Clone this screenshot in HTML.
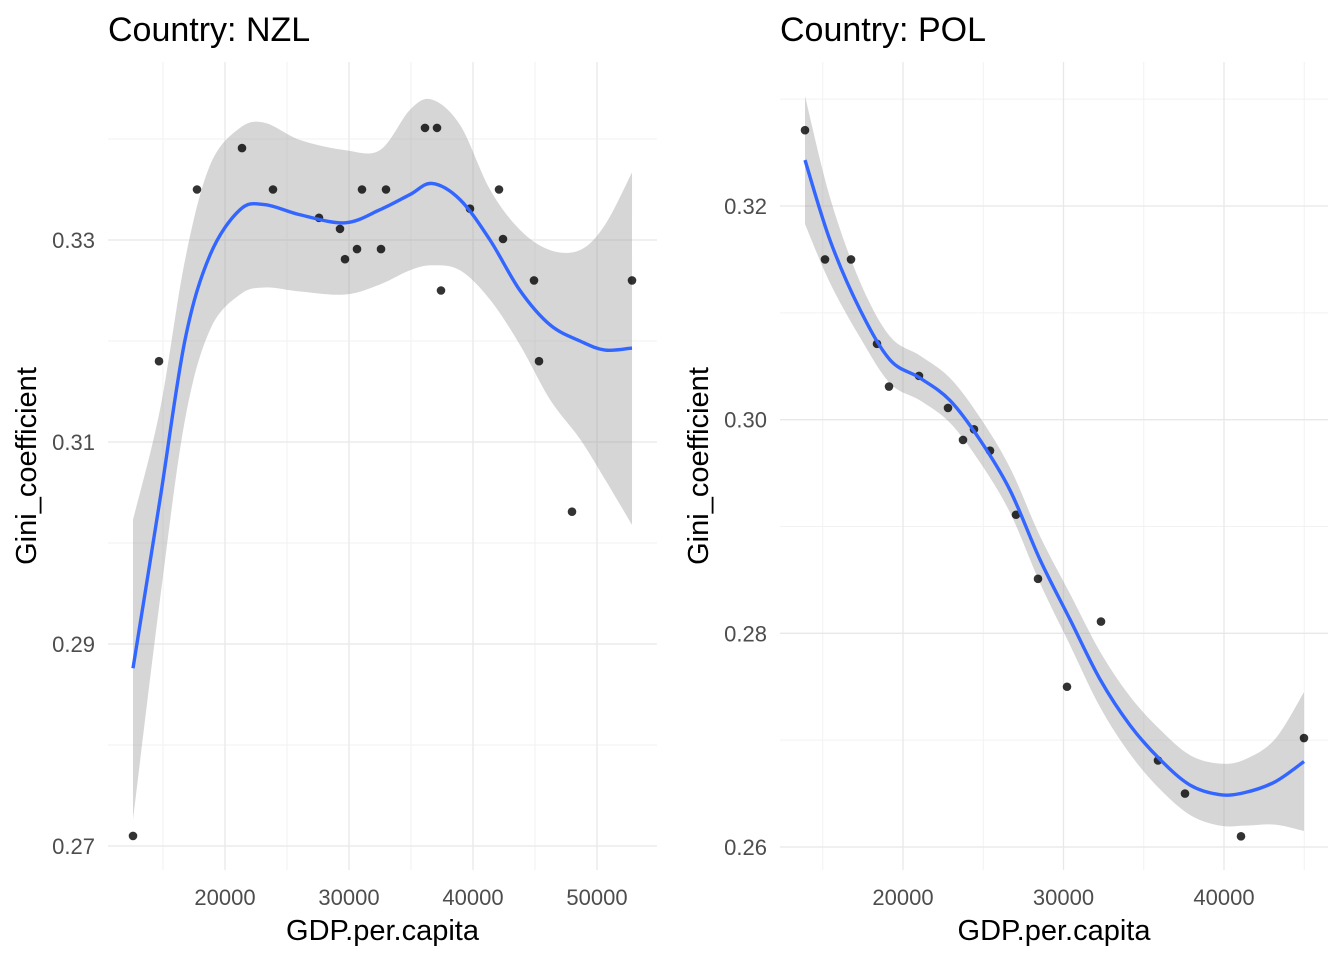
<!DOCTYPE html>
<html><head><meta charset="utf-8"><style>
body{margin:0;background:#fff;}
svg{display:block;font-family:"Liberation Sans",sans-serif;}
</style></head><body>
<svg id="chart" width="1344" height="960"></svg>
<script>
// NZL data
const nzlGdp=[12581,14677,17742,21371,23871,27581,29274,29677,30645,31048,32581,32984,36129,37097,37419,39758,42097,42419,44919,45323,47984,52823];
const nzlGini=[0.2710,0.3180,0.3350,0.3391,0.3350,0.3322,0.3311,0.3281,0.3291,0.3350,0.3291,0.3350,0.3411,0.3411,0.3250,0.3331,0.3350,0.3301,0.3260,0.3180,0.3031,0.3260];
const nzlFitX=[12581,14758,16774,18790,21210,23226,26048,29677,32500,34919,36694,38952,41371,43790,46210,48629,50645,52823];
const nzlFit=[0.2876,0.3043,0.3201,0.3285,0.3330,0.3335,0.3325,0.3317,0.3330,0.3345,0.3356,0.3340,0.3300,0.3250,0.3216,0.3200,0.3191,0.3193];
const nzlUpper=[0.3023,0.3132,0.3280,0.3374,0.3411,0.3416,0.3399,0.3389,0.3389,0.3429,0.3439,0.3414,0.3350,0.3310,0.3290,0.3290,0.3315,0.3367];
const nzlLower=[0.2726,0.2944,0.3122,0.3211,0.3246,0.3253,0.3249,0.3246,0.3256,0.3270,0.3275,0.3270,0.3241,0.3196,0.3142,0.3103,0.3063,0.3018];
const nzlXTicks=[20000,30000,40000,50000];
const nzlYTicks=[0.27,0.29,0.31,0.33];
// POL data
const polGdp=[13894,15140,16760,18380,19128,20997,22804,23738,24424,25421,27040,28411,30218,32336,35888,37570,41059,44984];
const polGini=[0.3271,0.3150,0.3150,0.3071,0.3031,0.3041,0.3011,0.2981,0.2991,0.2971,0.2911,0.2851,0.2750,0.2811,0.2681,0.2650,0.2610,0.2702];
const polFitX=[13894,15452,17321,19190,21059,22928,24798,26667,28536,30405,32274,34143,36012,37882,39751,41308,43178,44984];
const polFit=[0.3243,0.3168,0.3103,0.3056,0.3039,0.3018,0.2981,0.2934,0.2869,0.2813,0.2757,0.2714,0.2682,0.2658,0.2649,0.2651,0.2661,0.2680];
const polSe=[0.0060,0.0040,0.0026,0.0022,0.0021,0.0021,0.0021,0.0021,0.0022,0.0024,0.0026,0.0027,0.0028,0.0028,0.0029,0.0031,0.0040,0.0065];
const polXTicks=[20000,30000,40000];
const polYTicks=[0.26,0.28,0.30,0.32];

const NS="http://www.w3.org/2000/svg";
const svg=document.getElementById('chart');
function mk(tag,attrs,parent){const e=document.createElementNS(NS,tag);for(const k in attrs)e.setAttribute(k,attrs[k]);(parent||svg).appendChild(e);return e;}
function smooth(pts,start){
  let d=start?'M'+pts[0][0]+','+pts[0][1]:'L'+pts[0][0]+','+pts[0][1];
  for(let i=0;i<pts.length-1;i++){
    const p0=pts[Math.max(i-1,0)],p1=pts[i],p2=pts[i+1],p3=pts[Math.min(i+2,pts.length-1)];
    const c1=[p1[0]+(p2[0]-p0[0])/6,p1[1]+(p2[1]-p0[1])/6];
    const c2=[p2[0]-(p3[0]-p1[0])/6,p2[1]-(p3[1]-p1[1])/6];
    d+='C'+c1[0]+','+c1[1]+' '+c2[0]+','+c2[1]+' '+p2[0]+','+p2[1];
  }
  return d;
}

function panel(o){
  const g=mk('g',{});
  
  
  const sx=v=>o.x0+(v-o.xd0)/(o.xd1-o.xd0)*(o.x1-o.x0);
  const sy=v=>o.y0+(v-o.yd0)/(o.yd1-o.yd0)*(o.y1-o.y0);
  o.xMinor.forEach(v=>{const l=mk('line',{x1:sx(v),x2:sx(v),y1:o.top,y2:o.bottom,stroke:'#f2f2f2','stroke-width':1},g);
    });
  o.yMinor.forEach(v=>{const l=mk('line',{x1:o.left,x2:o.right,y1:sy(v),y2:sy(v),stroke:'#f2f2f2','stroke-width':1},g);
    });
  o.xTicks.forEach(v=>{const l=mk('line',{x1:sx(v),x2:sx(v),y1:o.top,y2:o.bottom,stroke:'#e8e8e8','stroke-width':1.3},g);
    
    const t=mk('text',{x:sx(v),y:o.bottom+35,'text-anchor':'middle','font-size':22,fill:'#4d4d4d'},g);t.textContent=v;
    });
  o.yTicks.forEach(v=>{const l=mk('line',{x1:o.left,x2:o.right,y1:sy(v),y2:sy(v),stroke:'#e8e8e8','stroke-width':1.3},g);
    
    const t=mk('text',{x:o.left-13,y:sy(v)+8,'text-anchor':'end','font-size':22,fill:'#4d4d4d'},g);t.textContent=v.toFixed(2);
    });
  const upPts=o.fx.map((v,i)=>[sx(v),sy(o.up[i])]);
  const loPts=o.fx.map((v,i)=>[sx(v),sy(o.lo[i])]).reverse();
  const rb=mk('path',{d:smooth(upPts,true)+smooth(loPts,false)+'Z',fill:'#999999','fill-opacity':0.4},g);
  
  o.px.forEach((v,i)=>{const c=mk('circle',{cx:sx(v),cy:sy(o.py[i]),r:4.3,fill:'#000','fill-opacity':0.8},g);
    });
  const fitPts=o.fx.map((v,i)=>[sx(v),sy(o.fit[i])]);
  const ln=mk('path',{d:smooth(fitPts,true),fill:'none',stroke:'#3366FF','stroke-width':3.4,'stroke-linejoin':'round'},g);
  
  const tt=mk('text',{x:o.left,y:41,'font-size':34,fill:'#000'},g);tt.textContent=o.title;
  
  const xt=mk('text',{x:(o.left+o.right)/2,y:940,'text-anchor':'middle','font-size':29,fill:'#000'},g);xt.textContent='GDP.per.capita';
  
  const yt=mk('text',{x:0,y:0,'text-anchor':'middle','font-size':29,fill:'#000',transform:'translate('+(o.left-72)+','+((o.top+o.bottom)/2)+') rotate(-90)'},g);yt.textContent='Gini_coefficient';
  
}

panel({name:'nzl',title:'Country: NZL',left:108,right:657,top:62,bottom:870,
  x0:225,x1:597,xd0:20000,xd1:50000,y0:240,y1:846,yd0:0.33,yd1:0.27,
  xTicks:nzlXTicks,yTicks:nzlYTicks,xMinor:[15000,25000,35000,45000],yMinor:[0.28,0.30,0.32,0.34],
  px:nzlGdp,py:nzlGini,fx:nzlFitX,fit:nzlFit,up:nzlUpper,lo:nzlLower});

panel({name:'pol',title:'Country: POL',left:780,right:1328,top:62,bottom:870,
  x0:903,x1:1224,xd0:20000,xd1:40000,y0:206,y1:847,yd0:0.32,yd1:0.26,
  xTicks:polXTicks,yTicks:polYTicks,xMinor:[15000,25000,35000,45000],yMinor:[0.27,0.29,0.31,0.33],
  px:polGdp,py:polGini,fx:polFitX,fit:polFit,
  up:polFit.map((v,i)=>v+polSe[i]),lo:polFit.map((v,i)=>v-polSe[i])});
</script>
</body></html>
